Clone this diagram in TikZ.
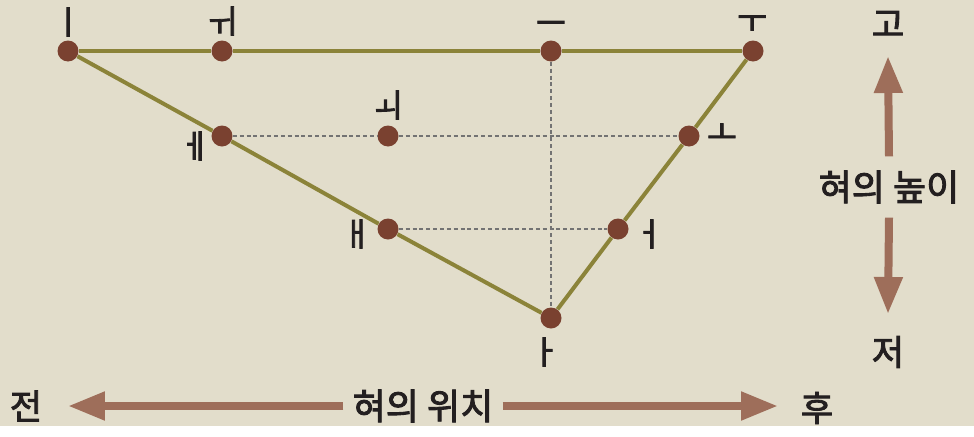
\documentclass[tikz,border=0pt]{standalone}
\usepackage{fontspec}
\setmainfont{Noto Sans CJK KR}
\newfontfamily\hangul{Noto Sans CJK KR}[FakeBold=2.5]
\usetikzlibrary{positioning,arrows.meta}
\definecolor{paper}{HTML}{E2DDCB}
\definecolor{olive}{HTML}{8B8339}
\definecolor{dotbrown}{HTML}{7A4130}
\definecolor{arrowbrown}{HTML}{9E6E5A}
\definecolor{ink}{HTML}{231F20}

\begin{document}
\begin{tikzpicture}[x=0.02cm, y=-0.02cm,
  vowel/.style={circle, fill=dotbrown, inner sep=0pt, minimum size=0.42cm},
  lab/.style={text=ink, inner sep=0pt, font=\hangul\fontsize{18.5}{19}\selectfont},
  word/.style={text=ink, inner sep=0pt, font=\hangul\fontsize{20}{20}\selectfont},
  axislab/.style={text=ink, inner xsep=0.18cm, inner ysep=0.28cm, font=\hangul\fontsize{20.5}{21}\selectfont},
  edge/.style={olive, line width=0.08cm},
  guide/.style={gray!90!black, line width=0.6pt, dash pattern=on 2.3pt off 1.6pt},
  arr/.style={-{Triangle[length=0.74cm, width=0.54cm]}, arrowbrown, line width=0.16cm}
]
  \fill[paper] (0,0) rectangle (974,426);

  % vowel points
  \node[vowel] (i)  at (68,51)   {};
  \node[vowel] (wi) at (222,51)  {};
  \node[vowel] (eu) at (551,51)  {};
  \node[vowel] (u)  at (753,51)  {};
  \node[vowel] (e)  at (222,136) {};
  \node[vowel] (oe) at (388,136) {};
  \node[vowel] (o)  at (689,136) {};
  \node[vowel] (ae) at (388,229) {};
  \node[vowel] (eo) at (618,229) {};
  \node[vowel] (a)  at (551,318) {};

  % dashed guides
  \draw[guide] (e) -- (oe);
  \draw[guide] (oe) -- (o);
  \draw[guide] (ae) -- (eo);
  \draw[guide] (eu) -- (a);

  % outline of the vowel space
  \draw[edge] (i) -- (wi);
  \draw[edge] (wi) -- (eu);
  \draw[edge] (eu) -- (u);
  \draw[edge] (i) -- (e);
  \draw[edge] (e) -- (ae);
  \draw[edge] (ae) -- (a);
  \draw[edge] (a) -- (eo);
  \draw[edge] (eo) -- (o);
  \draw[edge] (o) -- (u);

  % vowel labels
  \node[lab] (ilab)  at (68,22)   {ㅣ};
  \node[lab] (wilab) at (222,21)  {ㅟ};
  \node[lab] (eulab) at (551,28)  {ㅡ};
  \node[lab] (ulab)  at (752,24)  {ㅜ};
  \node[lab] (elab)  at (195,146) {ㅔ};
  \node[lab] (oelab) at (388,105) {ㅚ};
  \node[lab] (olab)  at (722,134) {ㅗ};
  \node[lab] (aelab) at (357,234) {ㅐ};
  \node[lab] (eolab) at (649,234) {ㅓ};
  \node[lab] (alab)  at (545,352) {ㅏ};

  % height axis
  \node[axislab] (height) at (889,187) {혀의 높이};
  \node[word] (high) at (888,24)  {고};
  \node[word] (low)  at (888,352) {저};
  \coordinate (hightip) at (888,56);
  \coordinate (lowtip)  at (888,314);
  \draw[arr] (height.north) -- (hightip);
  \draw[arr] (height.south) -- (lowtip);

  % position axis
  \node[axislab] (place) at (423,406) {혀의 위치};
  \node[word] (front) at (26,406)  {전};
  \node[word] (back)  at (817,408) {후};
  \coordinate (fronttip) at (68,406);
  \coordinate (backtip)  at (778,406);
  \draw[arr] (place.west) -- (fronttip);
  \draw[arr] (place.east) -- (backtip);
\end{tikzpicture}
\end{document}
